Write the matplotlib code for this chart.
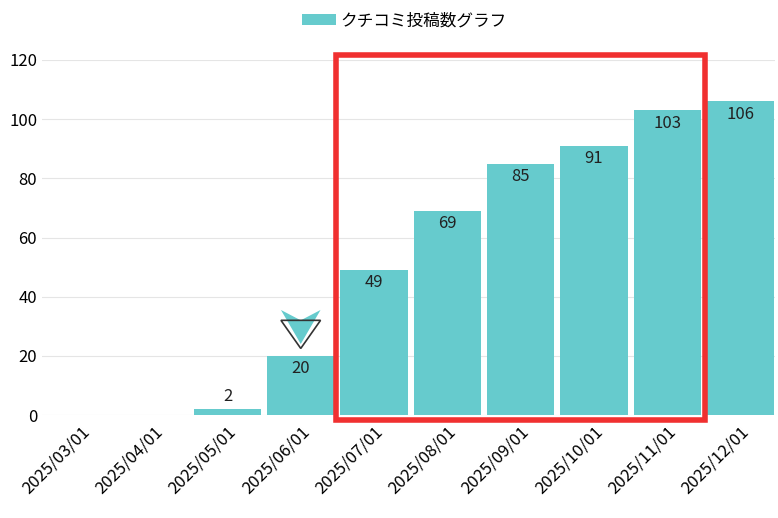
import matplotlib
matplotlib.use("Agg")
import matplotlib.pyplot as plt
from matplotlib.patches import Rectangle, Polygon

plt.rcParams['font.family'] = ['Noto Sans CJK JP', 'DejaVu Sans']

months = ["2025/03/01", "2025/04/01", "2025/05/01", "2025/06/01", "2025/07/01",
          "2025/08/01", "2025/09/01", "2025/10/01", "2025/11/01", "2025/12/01"]
counts = [0, 0, 2, 20, 49, 69, 85, 91, 103, 106]
TEAL = "#66cbcd"

fig = plt.figure(figsize=(7.78, 5.18), dpi=100)
ax = fig.add_axes([42/778, 1-415/518, 733/778, 355/518])
x = list(range(len(months)))
ax.bar(x, counts, width=0.92, color=TEAL, label="クチコミ投稿数グラフ", zorder=2)
for i, v in zip(x, counts):
    if v > 10:
        ax.text(i, v - 1.5, str(v), ha="center", va="top", fontsize=12, color="#222", zorder=3)
    elif v > 0:
        ax.text(i, v + 1.5, str(v), ha="center", va="bottom", fontsize=12, color="#222", zorder=3)

ax.set_xlim(-0.53, 9.47)
ax.set_ylim(0, 120)
ax.set_yticks(range(0, 121, 20))
ax.set_xticks(x)
ax.set_xticklabels(months, rotation=45, ha="right", rotation_mode="anchor", fontsize=12)
ax.tick_params(axis="y", labelsize=12, length=0)
ax.tick_params(axis="x", length=0, pad=6)
ax.grid(axis="y", color="#e5e5e5", lw=0.8, zorder=0)
for s in ax.spines.values():
    s.set_visible(False)

# down-arrow marker above the 2025/06 bar
ax.add_patch(Polygon([(2.73, 35.5), (3.0, 32), (3.27, 35.5), (3.0, 24)], closed=True,
                     facecolor=TEAL, edgecolor="none", zorder=3))
ax.add_patch(Polygon([(2.73, 32), (3.27, 32), (3.0, 22.5)], closed=True,
                     facecolor="none", edgecolor="#333", lw=1.2, zorder=4))

# red highlight box
ax.add_patch(Rectangle((3.48, -1.7), 5.03, 123.4, fill=False, edgecolor="#f03030",
                       lw=4, clip_on=False, zorder=5))

fig.legend(loc="upper center", bbox_to_anchor=(0.52, 1.0), frameon=False, fontsize=12,
           handlelength=1, handleheight=1, markerscale=1,
           handler_map=None)
leg = fig.legends[0]
for h in leg.legend_handles:
    h.set_visible(False)
fig.legends.clear()
ax.plot([], [], "o", color=TEAL, ms=13, label="クチコミ投稿数グラフ")
h, l = ax.get_legend_handles_labels()
fig.legend([h[-1]], [l[-1]], loc="upper center", bbox_to_anchor=(0.52, 1.005),
           frameon=False, fontsize=12, handletextpad=0.3)

fig.savefig("out.png", dpi=100)
